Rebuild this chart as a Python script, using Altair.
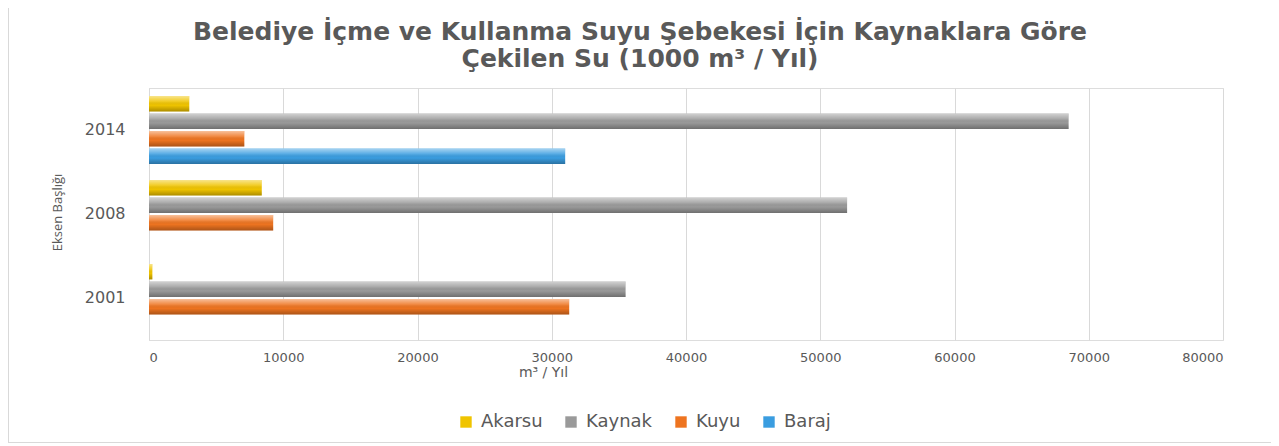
import altair as alt
import pandas as pd

years = ["2014", "2008", "2001"]
series = ["Akarsu", "Kaynak", "Kuyu", "Baraj"]
akarsu = [3000, 8400, 250]
kaynak = [68500, 52000, 35500]
kuyu = [7100, 9250, 31300]
baraj = [31000, None, None]
colors = ["#F0C400", "#9A9A9A", "#EE7420", "#3A9DE0"]
x_ticks = [0, 10000, 20000, 30000, 40000, 50000, 60000, 70000, 80000]
title_lines = ["Belediye İçme ve Kullanma Suyu Şebekesi İçin Kaynaklara Göre",
               "Çekilen Su (1000 m³ / Yıl)"]

rows = []
for name, vals in zip(series, [akarsu, kaynak, kuyu, baraj]):
    for yr, v in zip(years, vals):
        if v is not None:
            rows.append({"Yıl": yr, "Kaynak Türü": name, "Değer": v})
df = pd.DataFrame(rows)

GRAY = "#595959"
W, H = 1074, 252

x_enc = alt.X("Değer:Q",
              scale=alt.Scale(domain=[0, 80000], nice=False),
              axis=alt.Axis(values=x_ticks, format="d", grid=True, gridColor="#d9d9d9",
                            ticks=False, domain=False, labelPadding=11,
                            labelFont="DejaVu Sans", labelFontSize=13, labelColor=GRAY,
                            title="m³ / Yıl", titleFont="DejaVu Sans", titleFontSize=14,
                            titleFontWeight="normal", titleColor=GRAY,
                            titleX=394, titleY=32, titleBaseline="middle",
                            titleAlign="center"))
y_enc = alt.Y("Yıl:N", sort=years,
              scale=alt.Scale(paddingInner=0.19, paddingOuter=0.095),
              axis=alt.Axis(ticks=False, domain=True, domainColor="#d9d9d9",
                            labelPadding=24, labelFont="DejaVu Sans", labelFontSize=16,
                            labelColor=GRAY, title="Eksen Başlığı",
                            titleFont="Open Sans", titleFontSize=13,
                            titleFontWeight="normal", titleColor=GRAY,
                            titleAngle=-90, titleX=-92, titleY=124,
                            titleAlign="center", titleBaseline="middle"))
yoff = alt.YOffset("Kaynak Türü:N", sort=series,
                   scale=alt.Scale(domain=series, paddingInner=0.12, paddingOuter=0))

base = alt.Chart(df)

bars = base.mark_bar(cornerRadius=0).encode(
    x=x_enc, y=y_enc, yOffset=yoff,
    color=alt.Color("Kaynak Türü:N",
                    scale=alt.Scale(domain=series, range=colors),
                    legend=alt.Legend(title=None, orient="none", direction="horizontal",
                                      columns=4, legendX=308, legendY=325,
                                      symbolType="square", symbolSize=130,
                                      symbolStrokeWidth=0,
                                      labelFont="DejaVu Sans", labelFontSize=18,
                                      labelColor=GRAY, columnPadding=19,
                                      labelOffset=6)),
)

shine = base.mark_bar(
    color=alt.Gradient(
        gradient="linear", x1=0, y1=0, x2=0, y2=1,
        stops=[alt.GradientStop(color="rgba(255,255,255,0.55)", offset=0),
               alt.GradientStop(color="rgba(255,255,255,0.15)", offset=0.35),
               alt.GradientStop(color="rgba(0,0,0,0)", offset=0.6),
               alt.GradientStop(color="rgba(0,0,0,0.28)", offset=1)])
).encode(x="Değer:Q", y=alt.Y("Yıl:N", sort=years), yOffset=yoff)

frame_left = alt.Chart(df).mark_rule(color="#d9d9d9", strokeWidth=1).encode(
    x=alt.value(-140.5), y=alt.value(-80), y2=alt.value(355))
frame_bottom = alt.Chart(df).mark_rule(color="#d9d9d9", strokeWidth=1).encode(
    x=alt.value(-141), x2=alt.value(1122), y=alt.value(354.5))

chart = alt.layer(bars, shine, frame_left, frame_bottom).properties(
    width=W, height=H,
    autosize=alt.AutoSizeParams(type="none"),
    padding={"left": 141, "top": 80, "right": 48, "bottom": 106},
    title=alt.TitleParams(text=title_lines, anchor="middle", frame="group",
                          dx=-46, offset=-64, font="DejaVu Sans", fontSize=25,
                          fontWeight="bold", color=GRAY, lineHeight=27),
).configure_view(stroke=None).configure(background="white")

chart.save("out.html", embed_options={"renderer": "svg", "actions": False})
